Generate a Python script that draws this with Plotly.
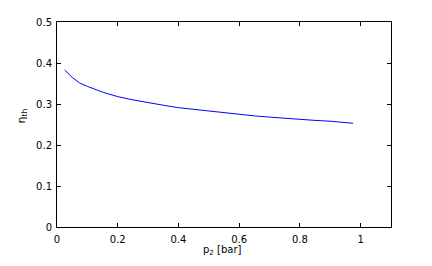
import plotly.graph_objects as go

p2 = [0.025, 0.05, 0.075, 0.1, 0.15, 0.2, 0.25, 0.3, 0.35, 0.4, 0.45, 0.5,
      0.55, 0.6, 0.65, 0.7, 0.75, 0.8, 0.85, 0.9, 0.95, 0.975]
eta_th = [0.383, 0.365, 0.351, 0.343, 0.329, 0.318, 0.310, 0.303, 0.297, 0.291,
          0.287, 0.283, 0.278, 0.275, 0.271, 0.268, 0.265, 0.262, 0.260, 0.258,
          0.255, 0.253]

x_ticks = [0, 0.2, 0.4, 0.6, 0.8, 1]
x_tick_text = ["0", "0.2", "0.4", "0.6", "0.8", "1"]
y_ticks = [0, 0.1, 0.2, 0.3, 0.4, 0.5]
y_tick_text = ["0", "0.1", "0.2", "0.3", "0.4", "0.5"]

fig = go.Figure()
fig.add_trace(go.Scatter(x=p2, y=eta_th, mode="lines",
                         line=dict(color="#0000ff", width=1), showlegend=False))

font = dict(family="DejaVu Sans, sans-serif", size=10, color="black")

fig.update_layout(
    width=432, height=266,
    margin=dict(l=57, r=41, t=22, b=39),
    paper_bgcolor="white", plot_bgcolor="white",
    font=font,
    xaxis=dict(range=[0, 1.1], tickvals=x_ticks, ticktext=x_tick_text,
               ticks="inside", ticklen=4, tickcolor="black", tickwidth=1,
               showline=True, linecolor="black", linewidth=1, mirror="allticks",
               showgrid=False, zeroline=False, ticklabelstandoff=3),
    yaxis=dict(range=[0, 0.5], tickvals=y_ticks, ticktext=y_tick_text,
               ticks="inside", ticklen=4, tickcolor="black", tickwidth=1,
               showline=True, linecolor="black", linewidth=1, mirror="allticks",
               showgrid=False, zeroline=False, ticklabelstandoff=2),
    annotations=[
        dict(text="p<sub>2</sub> [bar]", xref="x", x=0.542, yref="paper", y=0,
             xanchor="center", yanchor="top", yshift=-15, showarrow=False,
             font=font),
        dict(text="η<sub>th</sub>", xref="paper", x=-0.104, yref="paper", y=0.54,
             xanchor="center", yanchor="middle", textangle=-90, showarrow=False,
             font=dict(family="DejaVu Sans, sans-serif", size=11, color="black")),
    ],
)

fig.write_html("out.html")
